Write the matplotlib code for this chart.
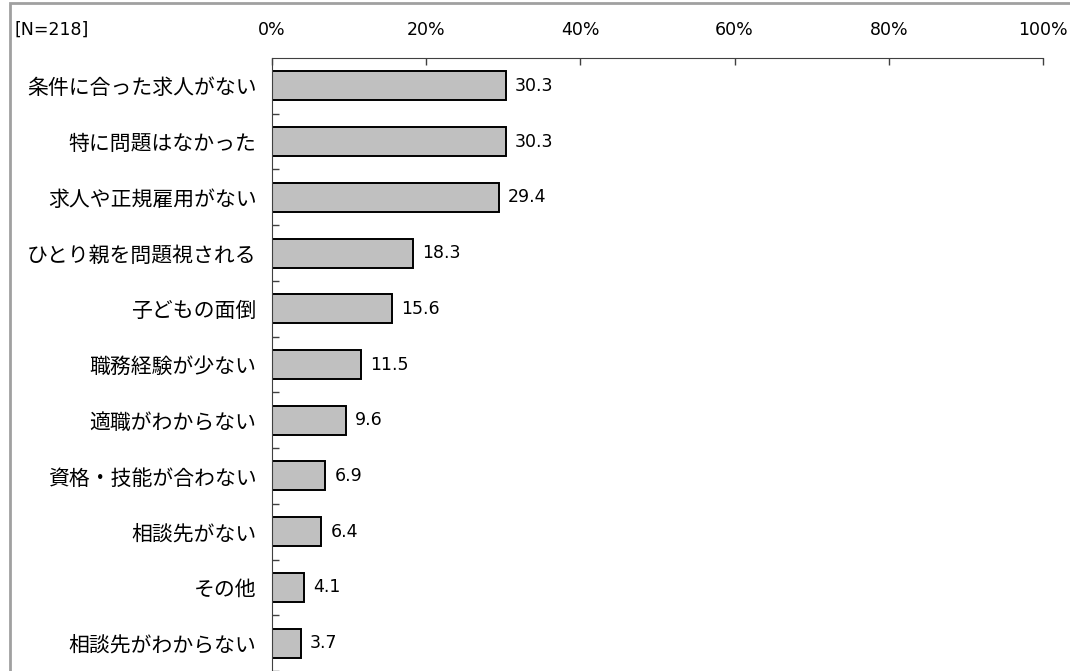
import matplotlib
matplotlib.use('Agg')
from matplotlib import pyplot as plt
from matplotlib.patches import Rectangle
from matplotlib.ticker import FixedLocator

plt.rcParams['font.family'] = ['Noto Sans CJK JP', 'DejaVu Sans']

labels = ['条件に合った求人がない', '特に問題はなかった', '求人や正規雇用がない',
          'ひとり親を問題視される', '子どもの面倒', '職務経験が少ない',
          '適職がわからない', '資格・技能が合わない', '相談先がない',
          'その他', '相談先がわからない']
values = [30.3, 30.3, 29.4, 18.3, 15.6, 11.5, 9.6, 6.9, 6.4, 4.1, 3.7]
xticks = [0, 20, 40, 60, 80, 100]
note = '[N=218]'

num_font = ['DejaVu Sans']

W, H = 1070, 671
fig = plt.figure(figsize=(W / 100, H / 100), dpi=100)
ax = fig.add_axes([272 / W, 0, (1043 - 272) / W, 1 - 58 / H])

pos = list(range(len(values)))
ax.barh(pos, values, height=0.52, color='#c0c0c0', edgecolor='black', linewidth=1.4)
for y, v in zip(pos, values):
    ax.text(v + 1.2, y, f'{v:.1f}', va='center', ha='left', fontsize=12.5, family=num_font)

ax.set_xlim(0, 100)
ax.set_ylim(len(values) - 0.5, -0.5)

ax.xaxis.tick_top()
ax.set_xticks(xticks)
ax.set_xticklabels([f'{t}%' for t in xticks], fontsize=12.5, family=num_font)
ax.tick_params(axis='x', direction='in', length=5, width=1, color='#404040', pad=14)

ax.set_yticks(pos)
ax.set_yticklabels(labels, fontsize=15)
ax.tick_params(axis='y', which='major', length=0, pad=11)
ax.yaxis.set_minor_locator(FixedLocator([p + 0.5 for p in pos]))
ax.tick_params(axis='y', which='minor', direction='in', length=5, width=1, color='#404040')

for s in ['right', 'bottom']:
    ax.spines[s].set_visible(False)
ax.spines['top'].set_color('#404040')
ax.spines['left'].set_color('#404040')

fig.text(14 / W, 1 - 30 / H, note, fontsize=12.5, va='center', ha='left', family=num_font)

fig.patches.append(Rectangle((10 / W, -0.1), 1.2, 1 - 3 / H + 0.1, transform=fig.transFigure,
                             fill=False, edgecolor='#a0a0a0', linewidth=2))

fig.savefig('out.png', dpi=100)
